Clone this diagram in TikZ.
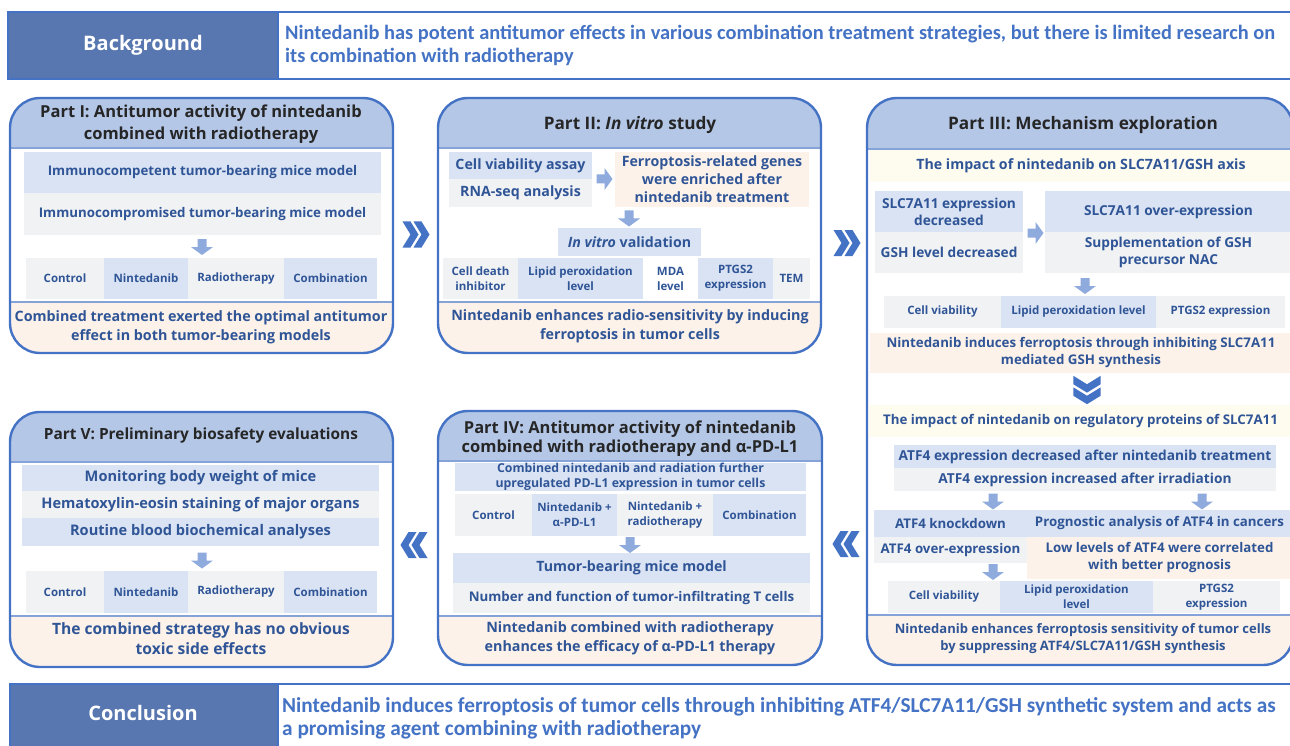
\documentclass[tikz,border=0pt]{standalone}
\usepackage{fontspec}
\newfontfamily\osans{Open Sans}
\newfontfamily\carl{Carlito}

\definecolor{frameblue}{HTML}{4472C4}
\definecolor{bgdark}{HTML}{5877B0}
\definecolor{headblue}{HTML}{B4C7E7}
\definecolor{cellblue}{HTML}{DAE3F3}
\definecolor{cellgrey}{HTML}{F1F2F4}
\definecolor{peach}{HTML}{FCF2E9}
\definecolor{paleyellow}{HTML}{FEFBEF}
\definecolor{inktext}{HTML}{2F5597}
\definecolor{titleink}{HTML}{262626}
\definecolor{arrowblue}{HTML}{8FAADC}

\tikzset{
  frame/.style={draw=frameblue, line width=2.4pt},
  sepline/.style={draw=frameblue!65, line width=1.4pt},
  cellB/.style={fill=cellblue, inner sep=0pt, align=center, text=inktext},
  cellG/.style={fill=cellgrey, inner sep=0pt, align=center, text=inktext},
  cellP/.style={fill=peach, inner sep=0pt, align=center, text=inktext},
  cellY/.style={fill=paleyellow, inner sep=0pt, align=center, text=inktext},
  cellW/.style={inner sep=0pt, align=center, text=inktext},
  bgbox/.style={fill=bgdark, draw=frameblue, line width=2pt, inner sep=0pt},
  bgname/.style={inner sep=0pt, text=white, font=\osans\bfseries\fontsize{20}{24}\selectfont},
  bgwhite/.style={fill=white, draw=frameblue, line width=2pt, inner sep=0pt},
  bgtext/.style={inner sep=0pt, align=left, text=frameblue, font=\carl\bfseries\fontsize{20.4}{23}\selectfont},
  ttl/.style={inner sep=0pt, align=center, text=titleink, font=\osans\bfseries\fontsize{16.5}{22}\selectfont},
  ttlL/.style={font=\osans\bfseries\fontsize{17.2}{22}\selectfont},
  itm/.style={font=\osans\bfseries\fontsize{13.3}{17}\selectfont},
  itmM/.style={font=\osans\bfseries\fontsize{13.7}{17}\selectfont},
  itmL/.style={font=\osans\bfseries\fontsize{14.2}{18}\selectfont},
  row/.style={font=\osans\bfseries\fontsize{11.5}{15}\selectfont},
  summ/.style={inner sep=0pt, align=center, text=inktext, font=\osans\bfseries\fontsize{14.3}{19}\selectfont},
  blockarr/.pic={\fill[arrowblue] (-4.5,-8) -- (4.5,-8) -- (4.5,0) -- (11,0) -- (0,8) -- (-11,0) -- (-4.5,0) -- cycle;},
  chevrons/.pic={
    \fill[frameblue] (-13.5,-13) -- (-5.5,-13) -- (2.5,0) -- (-5.5,13) -- (-13.5,13) -- (-5.5,0) -- cycle;
    \fill[frameblue] (-2.5,-13) -- (5.5,-13) -- (13.5,0) -- (5.5,13) -- (-2.5,13) -- (5.5,0) -- cycle;}
}

% box from corner (x1,y1) to corner (x2,y2)
\newcommand{\cellat}[7]{\node[#1, minimum width={(#5-#3)*1pt}, minimum height={(#6-#4)*1pt}] (#2) at ({(#3+#5)/2},{(#4+#6)/2}) {#7};}
% panel: x1 y1 x2 y2, bottom of header, top of summary
\newcommand{\panelbox}[6]{%
  \begin{scope}
    \clip[rounded corners=30pt] (#1,#2) rectangle (#3,#4);
    \fill[headblue] (#1,#2) rectangle (#3,#5);
    \fill[peach] (#1,#6) rectangle (#3,#4);
    \draw[sepline] (#1,#5) -- (#3,#5);
    \draw[sepline] (#1,#6) -- (#3,#6);
  \end{scope}
  \draw[frame, rounded corners=30pt] (#1,#2) rectangle (#3,#4);}

\begin{document}
\begin{tikzpicture}[x=1pt, y=-1pt]
\useasboundingbox (0,0) rectangle (1290,746);

% Background bar
\cellat{bgbox}{bg}{8}{12}{278}{79}{}
\node[bgname] (bgn) at (bg.center) {Background};
\cellat{bgwhite}{bgr}{278}{12}{1296}{79}{}
\node[bgtext, anchor=west] (bgt) at ([xshift=8pt]bgr.west) {Nintedanib has potent antitumor effects in various combination treatment strategies, but there is limited research on\\its combination with radiotherapy};

% Part I
\panelbox{10}{98}{393}{353}{148}{302}
\node[ttl] (p1t) at (201,124) {Part I: Antitumor activity of nintedanib\\combined with radiotherapy};
\cellat{cellB,itm}{p1a}{24}{152}{381}{193}{Immunocompetent tumor-bearing mice model}
\cellat{cellG,itm}{p1b}{24}{193}{381}{235}{Immunocompromised tumor-bearing mice model}
\pic at (202,247) {blockarr};
\cellat{cellG,row}{p1c}{26}{258}{104}{299}{Control}
\cellat{cellB,row}{p1d}{104}{258}{188}{299}{Nintedanib}
\cellat{cellG,row}{p1e}{188}{258}{284}{299}{Radiotherapy}
\cellat{cellB,row}{p1f}{284}{258}{377}{299}{Combination}
\node[summ] (p1s) at (201,327) {Combined treatment exerted the optimal antitumor\\effect in both tumor-bearing models};

\pic at (416,234.5) {chevrons};

% Part II
\panelbox{438}{98}{821}{353}{148}{302}
\node[ttl, ttlL] (p2t) at (630,125) {Part II: \textit{In vitro} study};
\cellat{cellB,itmL}{p2a}{449}{152}{592}{179}{Cell viability assay}
\cellat{cellG,itmL}{p2b}{449}{179}{592}{207}{RNA-seq analysis}
\pic[rotate=90] at (604.5,179) {blockarr};
\cellat{cellP,itmL}{p2c}{615}{152}{809}{207}{Ferroptosis-related genes\\were enriched after\\nintedanib treatment}
\pic at (629,218.5) {blockarr};
\cellat{cellB,itmL}{p2d}{558}{228}{701}{256}{\textit{In vitro} validation}
\cellat{cellG,row}{p2e}{443}{258}{518}{299}{Cell death\\inhibitor}
\cellat{cellB,row}{p2f}{518}{258}{643}{299}{Lipid peroxidation\\level}
\cellat{cellW,row}{p2g}{643}{258}{698}{299}{MDA\\level}
\cellat{cellB,row}{p2h}{698}{258}{773}{299}{PTGS2\\expression}
\cellat{cellG,row}{p2i}{773}{258}{810}{299}{TEM}
\node[summ] (p2s) at (630,326) {Nintedanib enhances radio-sensitivity by inducing\\ferroptosis in tumor cells};

\pic at (847,243) {chevrons};

% Part III
\panelbox{867}{98}{1293}{665}{149}{615}
\node[ttl, ttlL] (p3t) at (1083,125) {Part III: Mechanism exploration};
\cellat{cellY,itmL}{p3a}{870}{150}{1292}{182}{The impact of nintedanib on SLC7A11/GSH axis}
\cellat{cellB,itmM}{p3b}{875}{191}{1023}{232}{SLC7A11 expression\\decreased}
\cellat{cellG,itmM}{p3c}{875}{232}{1023}{273}{GSH level decreased}
\pic[rotate=90] at (1035.5,233) {blockarr};
\cellat{cellB,itmM}{p3d}{1045}{191}{1292}{232}{SLC7A11 over-expression}
\cellat{cellG,itmM}{p3e}{1045}{232}{1292}{273}{Supplementation of GSH\\precursor NAC}
\pic at (1085,286) {blockarr};
\cellat{cellG,row}{p3f}{884}{296}{1001}{328}{Cell viability}
\cellat{cellB,row}{p3g}{1001}{296}{1156}{328}{Lipid peroxidation level}
\cellat{cellG,row}{p3h}{1156}{296}{1285}{328}{PTGS2 expression}
\cellat{cellP,itm}{p3i}{870}{333}{1292}{373}{Nintedanib induces ferroptosis through inhibiting SLC7A11\\mediated GSH synthesis}
\pic[rotate=-90, scale=1.05] at (1087,390) {chevrons};
\cellat{cellY,itm}{p3j}{869}{405}{1292}{437}{The impact of nintedanib on regulatory proteins of SLC7A11}
\cellat{cellB,itmM}{p3k}{894}{445}{1276}{468}{ATF4 expression decreased after nintedanib treatment}
\cellat{cellG,itmM}{p3l}{894}{468}{1276}{491}{ATF4 expression increased after irradiation}
\pic at (993,501.5) {blockarr};
\pic at (1202,501.5) {blockarr};
\cellat{cellB,itm}{p3m}{874}{510}{1027}{537}{ATF4 knockdown}
\cellat{cellG,itm}{p3n}{874}{537}{1027}{563}{ATF4 over-expression}
\cellat{cellB,itm}{p3o}{1027}{510}{1292}{537}{Prognostic analysis of ATF4 in cancers}
\cellat{cellP,itm}{p3p}{1027}{537}{1292}{579}{Low levels of ATF4 were correlated\\with better prognosis}
\pic at (993,572) {blockarr};
\cellat{cellG,row}{p3q}{888}{581}{1000}{613}{Cell viability}
\cellat{cellB,row}{p3r}{1000}{581}{1153}{613}{Lipid peroxidation\\level}
\cellat{cellG,row}{p3s}{1153}{581}{1280}{613}{PTGS2\\expression}
\node[summ, font=\osans\bfseries\fontsize{13}{17}\selectfont] (p3u) at (1083,639) {Nintedanib enhances ferroptosis sensitivity of tumor cells\\by suppressing ATF4/SLC7A11/GSH synthesis};

\pic[rotate=180] at (846,544) {chevrons};

% Part IV
\panelbox{438}{411}{822}{665}{461}{616}
\node[ttl, font=\osans\bfseries\fontsize{16.5}{19}\selectfont] (p4t) at (630,438.5) {Part IV: Antitumor activity of nintedanib\\combined with radiotherapy and α-PD-L1};
\cellat{cellB,font=\osans\bfseries\fontsize{12.3}{15}\selectfont}{p4a}{455}{463}{806}{491}{Combined nintedanib and radiation further\\upregulated PD-L1 expression in tumor cells}
\cellat{cellG,row}{p4b}{455}{494}{532}{536}{Control}
\cellat{cellB,row}{p4c}{532}{494}{617}{536}{Nintedanib +\\α-PD-L1}
\cellat{cellG,row}{p4d}{617}{494}{713}{536}{Nintedanib +\\radiotherapy}
\cellat{cellB,row}{p4e}{713}{494}{806}{536}{Combination}
\pic at (630,545) {blockarr};
\cellat{cellB,itmL}{p4f}{453}{553}{810}{583}{Tumor-bearing mice model}
\cellat{cellG,itm}{p4g}{453}{583}{810}{613}{Number and function of tumor-infiltrating T cells}
\node[summ] (p4s) at (630,638) {Nintedanib combined with radiotherapy\\enhances the efficacy of α-PD-L1 therapy};

\pic[rotate=180] at (414,545) {chevrons};

% Part V
\panelbox{10}{412}{393}{667}{462}{616}
\node[ttl, font=\osans\bfseries\fontsize{15.4}{20}\selectfont] (p5t) at (201,435) {Part V: Preliminary biosafety evaluations};
\cellat{cellB,font=\osans\bfseries\fontsize{14.6}{18}\selectfont}{p5a}{22}{465}{379}{491}{Monitoring body weight of mice}
\cellat{cellG,font=\osans\bfseries\fontsize{14.6}{18}\selectfont}{p5b}{22}{491}{379}{518}{Hematoxylin-eosin staining of major organs}
\cellat{cellB,font=\osans\bfseries\fontsize{14.6}{18}\selectfont}{p5c}{22}{518}{379}{546}{Routine blood biochemical analyses}
\pic at (202,560.5) {blockarr};
\cellat{cellG,row}{p5d}{26}{571}{104}{613}{Control}
\cellat{cellB,row}{p5e}{104}{571}{188}{613}{Nintedanib}
\cellat{cellG,row}{p5f}{188}{571}{284}{613}{Radiotherapy}
\cellat{cellB,row}{p5g}{284}{571}{377}{613}{Combination}
\node[summ, font=\osans\bfseries\fontsize{15.6}{20}\selectfont] (p5s) at (201,638.5) {The combined strategy has no obvious\\toxic side effects};

% Conclusion bar
\cellat{bgbox}{cl}{10}{684}{278}{750}{}
\node[bgname] (cln) at (143,713) {Conclusion};
\cellat{bgwhite}{clr}{278}{684}{1296}{750}{}
\node[bgtext, font=\carl\bfseries\fontsize{21.3}{23}\selectfont, anchor=west] (clt) at ([xshift=5pt, yshift=-1.5pt]clr.west) {Nintedanib induces ferroptosis of tumor cells through inhibiting ATF4/SLC7A11/GSH synthetic system and acts as\\a promising agent combining with radiotherapy};
\end{tikzpicture}
\end{document}
